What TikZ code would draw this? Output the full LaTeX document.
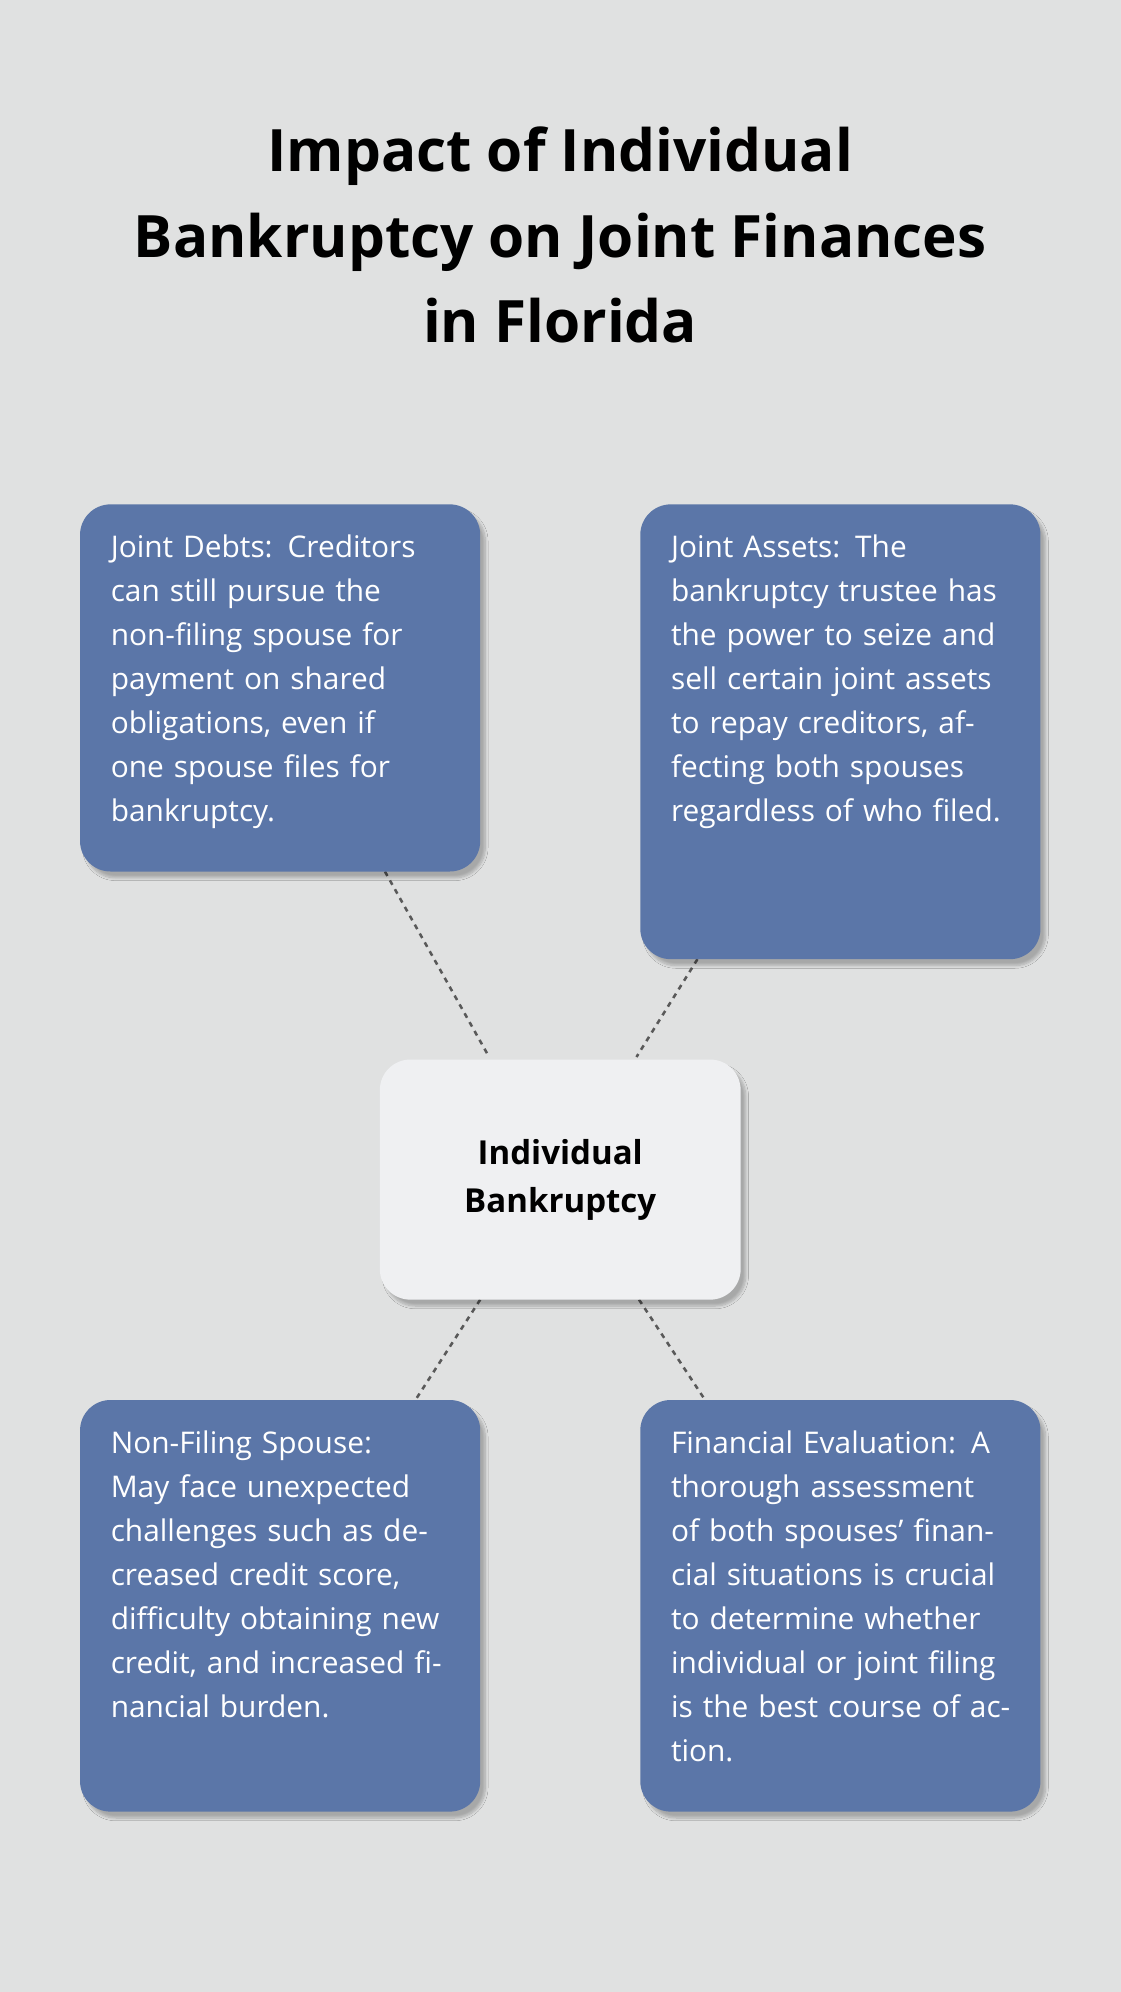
\documentclass[tikz,border=0pt]{standalone}
\usepackage{fontspec}
\setmainfont{Open Sans}
\usetikzlibrary{shadows.blur}
\definecolor{bg}{HTML}{E0E1E1}
\definecolor{boxb}{HTML}{5B76A8}
\definecolor{boxc}{HTML}{EFF0F2}
\begin{document}
\begin{tikzpicture}[x=1pt,y=-1pt,
  card/.style={rounded corners=24pt,draw=none,blur shadow={shadow blur steps=8,shadow xshift=4pt,shadow yshift=-5pt,shadow opacity=25}},
  txt/.style={anchor=north west,text width=268pt,align=left,inner sep=0pt,text=white,font=\fontsize{23.5}{34.6}\selectfont},
  conn/.style={draw=black!65,line width=2pt,dash pattern=on 4pt off 4pt}]
\fill[bg] (0,0) rectangle (882,1568);
\useasboundingbox (0,0) rectangle (882,1568);
\node[align=center,font=\fontsize{46}{67}\selectfont\bfseries] (title) at (441,185) {Impact of Individual\\Bankruptcy on Joint Finances\\in Florida};
\coordinate (a1) at (303,686); \coordinate (a2) at (385,832);
\coordinate (b1) at (549,755); \coordinate (b2) at (501,832);
\coordinate (c1) at (378,1023); \coordinate (c2) at (327,1102);
\coordinate (d1) at (503,1023); \coordinate (d2) at (555,1102);
\draw[conn] (a1)--(a2); \draw[conn] (b1)--(b2); \draw[conn] (c1)--(c2); \draw[conn] (d1)--(d2);
\fill[card,boxb] (63,397) rectangle (378,686);
\fill[card,boxb] (504,397) rectangle (819,755);
\fill[card,boxc] (299,834) rectangle (583,1023);
\fill[card,boxb] (63,1102) rectangle (378,1426);
\fill[card,boxb] (504,1102) rectangle (819,1426);
\node[txt] (t1) at (87,421) {Joint Debts: Creditors can still pursue the non-filing spouse for payment on shared obligations, even if one spouse files for bankruptcy.};
\node[txt] (t2) at (528,421) {Joint Assets: The bankruptcy trustee has the power to seize and sell certain joint assets to repay creditors, affecting both spouses regardless of who filed.};
\node[txt] (t3) at (87,1126) {Non-Filing Spouse: May face unexpected challenges such as decreased credit score, difficulty obtaining new credit, and increased financial burden.};
\node[txt] (t4) at (528,1126) {Financial Evaluation: A thorough assessment of both spouses' financial situations is crucial to determine whether individual or joint filing is the best course of action.};
\node[align=center,font=\fontsize{26}{38}\selectfont\bfseries] (center) at (441,929) {Individual\\Bankruptcy};
\end{tikzpicture}
\end{document}
